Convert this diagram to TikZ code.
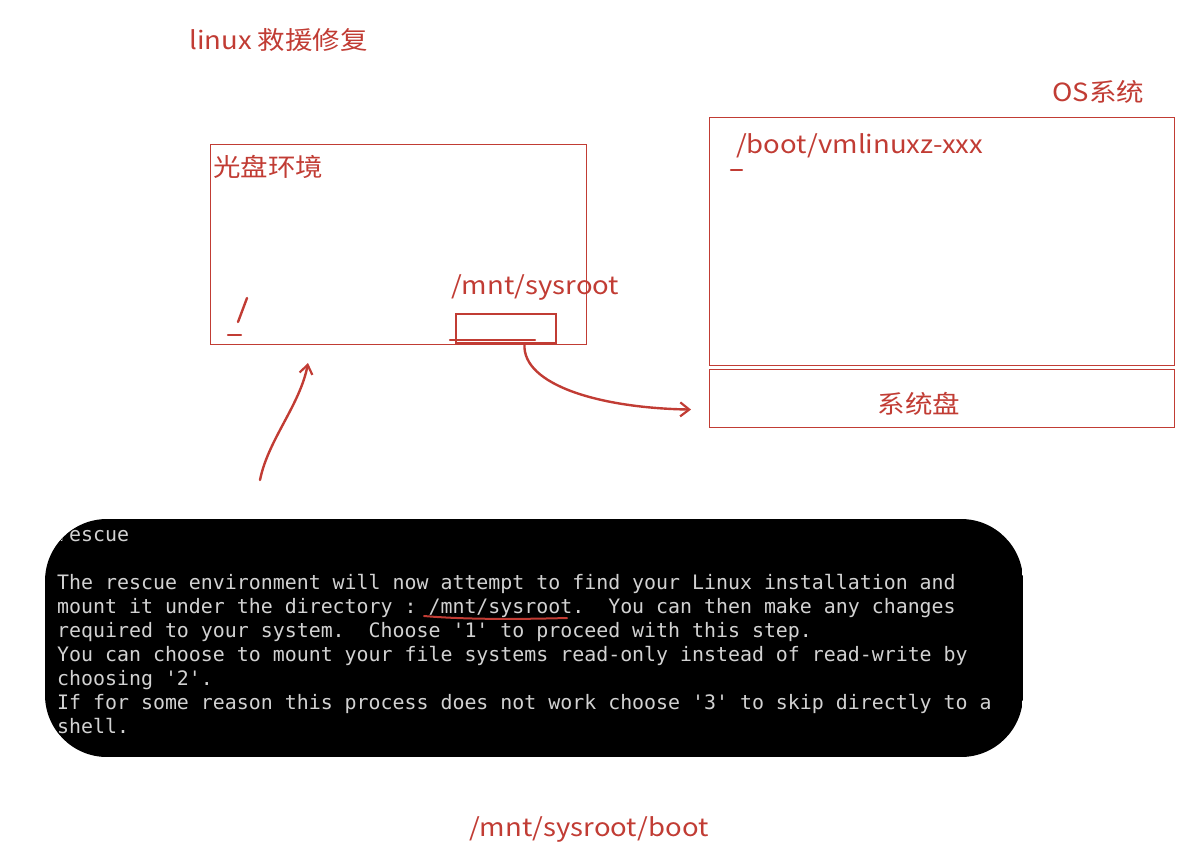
\documentclass[tikz,border=0pt]{standalone}
\usepackage{fontspec}
\usepackage{tikz}
\usetikzlibrary{positioning,arrows.meta,calc}
\newfontfamily\cjk[FakeStretch=1.1]{Noto Sans CJK SC}
\setmonofont{DejaVu Sans Mono}
\definecolor{sketchred}{RGB}{193,60,52}
\definecolor{termgray}{RGB}{210,210,210}
\tikzstyle{hand}=[%
      text=sketchred, font=\cjk\fontsize{25}{28}\selectfont, inner sep=0pt, anchor=west
]
\tikzstyle{frame}=[%
      rectangle, draw=sketchred, line width=1.1pt, fill=none, inner sep=0pt, anchor=north west
]
\tikzstyle{stroke}=[%
      draw=sketchred, line width=2.4pt, line cap=round
]
\tikzstyle{termline}=[%
      text=termgray, font=\ttfamily\fontsize{19.9}{24}\selectfont, inner sep=0pt, anchor=base west
]

\begin{document}
\begin{tikzpicture}[x=1pt,y=-1pt]
    \useasboundingbox (0,0) rectangle (1188,852);

    % titles
    \node[hand] (title)  at (189,40)  {linux 救援修复};
    \node[hand] (ostitle) at (1052,92) {OS系统};

    % rescue (cd) environment
    \node[frame, minimum width=376pt, minimum height=200pt] (cdbox) at (210,144) {};
    \node[hand] (cdlabel) at (213,167) {光盘环境};
    \node[hand] (mntlabel) at (451,287) {/mnt/sysroot};
    \node[frame, line width=2pt, minimum width=100pt, minimum height=29pt] (mnt) at (455,313) {};
    \draw[stroke] (238,322) -- (247,298);
    \draw[stroke] (228,335) -- (241,335);
    \draw[stroke] (450,340) -- (535,340);

    % os and system disk
    \node[frame, minimum width=465pt, minimum height=248pt] (os) at (709,117) {};
    \node[frame, minimum width=465pt, minimum height=58pt] (disk) at (709,369) {};
    \node[hand] (bootlabel) at (736,146) {/boot/vmlinuxz-xxx};
    \draw[stroke] (731,170) -- (742,170);
    \node[hand, anchor=center] (disklabel) at (919,404) {系统盘};

    % arrows
    \coordinate (upStart) at (260,480);
    \coordinate (upEnd) at (308,363);
    \draw[stroke, -{Straight Barb[length=9pt,width=13pt,line width=2.2pt]}]
        (upStart) .. controls (268,440) and (300,405) .. (upEnd);
    \draw[stroke, -{Straight Barb[length=9pt,width=14pt,line width=2.2pt]}]
        (mnt.-40) .. controls (522,385) and (600,408) .. ([xshift=-18pt,yshift=-11pt]disk.west);

    % terminal screenshot
    \begin{scope}
      \clip[rounded corners=62pt] (45,519) rectangle (1023,757);
      \fill[black] (45,519) rectangle (1023,757);
      \node[termline] (l1) at (57,541) {rescue};
      \node[termline] (l2) at (57,589) {The rescue environment will now attempt to find your Linux installation and};
      \node[termline] (l3) at (57,613) {mount it under the directory : /mnt/sysroot.~ You can then make any changes};
      \node[termline] (l4) at (57,637) {required to your system.~ Choose '1' to proceed with this step.};
      \node[termline] (l5) at (57,661) {You can choose to mount your file systems read-only instead of read-write by};
      \node[termline] (l6) at (57,685) {choosing '2'.};
      \node[termline] (l7) at (57,709) {If for some reason this process does not work choose '3' to skip directly to a};
      \node[termline] (l8) at (57,733) {shell.};
    \end{scope}
    \draw[draw=sketchred, line width=2pt, line cap=round] (424,616) .. controls (470,620) and (530,619) .. (567,618);

    \node[hand] (bootpath) at (469,829) {/mnt/sysroot/boot};
\end{tikzpicture}
\end{document}
